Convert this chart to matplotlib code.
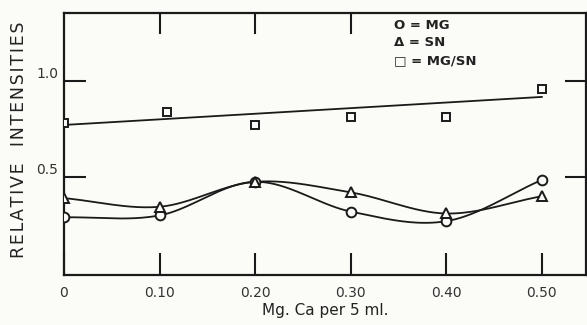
#! /usr/bin/env python3
"""
Relative intensities of MG, SN and MG/SN against Mg. Ca per 5 ml.
"""

import matplotlib
matplotlib.use("Agg")
import matplotlib.pyplot as plt
import numpy as np

mg_ca = [0.0, 0.10, 0.20, 0.30, 0.40, 0.50]
mg = [0.29, 0.30, 0.475, 0.32, 0.27, 0.485]
sn = [0.39, 0.345, 0.475, 0.42, 0.31, 0.40]
ratio_x = [0.0, 0.108, 0.20, 0.30, 0.40, 0.50]
ratio = [0.78, 0.84, 0.77, 0.81, 0.81, 0.96]
fit_x = [0.0, 0.50]
fit_y = [0.771, 0.917]
x_ticks = [0.0, 0.10, 0.20, 0.30, 0.40, 0.50]
x_tick_labels = ["0", "0.10", "0.20", "0.30", "0.40", "0.50"]
y_ticks = [0.5, 1.0]
y_tick_labels = ["0.5", "1.0"]
legend_lines = ["O = MG", "\u0394 = SN", "\u25a1 = MG/SN"]


def smooth_curve(x, y, n=40):
    """Cubic Hermite curve with Catmull-Rom tangents, like a French curve."""
    x = np.asarray(x, dtype=float)
    y = np.asarray(y, dtype=float)
    k = len(x)
    d = np.zeros(k)
    d[0] = (y[1] - y[0]) / (x[1] - x[0])
    d[-1] = (y[-1] - y[-2]) / (x[-1] - x[-2])
    for i in range(1, k - 1):
        d[i] = (y[i + 1] - y[i - 1]) / (x[i + 1] - x[i - 1])
    xs_all, ys_all = [], []
    for i in range(k - 1):
        h = x[i + 1] - x[i]
        t = np.linspace(0, 1, n)
        h00 = 2 * t ** 3 - 3 * t ** 2 + 1
        h10 = t ** 3 - 2 * t ** 2 + t
        h01 = -2 * t ** 3 + 3 * t ** 2
        h11 = t ** 3 - t ** 2
        xs_all.append(x[i] + t * h)
        ys_all.append(h00 * y[i] + h10 * h * d[i]
                      + h01 * y[i + 1] + h11 * h * d[i + 1])
    return np.concatenate(xs_all), np.concatenate(ys_all)


def main():
    paper = "#fbfbf7"
    ink = "#1a1a1a"
    fig = plt.figure(figsize=(5.87, 3.25), dpi=100, facecolor=paper)
    ax = fig.add_axes([0.109, 0.154, 0.889, 0.806], facecolor=paper)

    for xs, ys in (smooth_curve(mg_ca, mg), smooth_curve(mg_ca, sn)):
        ax.plot(xs, ys, color=ink, linewidth=1.3, zorder=2)
    ax.plot(fit_x, fit_y, color=ink, linewidth=1.3, zorder=2)

    ax.plot(mg_ca, mg, linestyle="none", marker="o", markersize=7,
            markerfacecolor=paper, markeredgecolor=ink,
            markeredgewidth=1.4, zorder=3)
    ax.plot(mg_ca, sn, linestyle="none", marker="^", markersize=7,
            markerfacecolor=paper, markeredgecolor=ink,
            markeredgewidth=1.4, zorder=4)
    ax.plot(ratio_x, ratio, linestyle="none", marker="s", markersize=6,
            markerfacecolor=paper, markeredgecolor=ink,
            markeredgewidth=1.4, zorder=3)

    ax.set_xlim(0, 0.546)
    ax.set_ylim(-0.01, 1.354)
    for spine in ax.spines.values():
        spine.set_linewidth(1.6)
        spine.set_color(ink)

    ax.set_xticks(x_ticks)
    ax.set_xticklabels(x_tick_labels, fontsize=10, color="#333333")
    ax.set_yticks(y_ticks)
    ax.set_yticklabels(y_tick_labels, fontsize=10, color="#333333")
    ax.tick_params(axis="both", direction="in", length=16, width=1.5,
                   color=ink, pad=8)
    ax.tick_params(axis="y", pad=4)
    for label in ax.get_yticklabels():
        label.set_va("bottom")

    top = ax.secondary_xaxis("top")
    top.set_xticks([0.10, 0.20, 0.30])
    top.set_xticklabels([])
    top.tick_params(direction="in", length=15, width=1.5, color=ink)
    top.spines["top"].set_visible(False)
    right = ax.secondary_yaxis("right")
    right.set_yticks(y_ticks)
    right.set_yticklabels([])
    right.tick_params(direction="in", length=15, width=1.5, color=ink)
    right.spines["right"].set_visible(False)

    ax.set_xlabel("Mg. Ca per 5 ml.", fontsize=11, color="#222222",
                  labelpad=2)
    ylabel = "\u200a".join("RELATIVE  INTENSITIES")
    fig.text(0.033, 0.57, ylabel,
             rotation=90, fontsize=12.5, color="#222222",
             ha="center", va="center")

    for i, line in enumerate(legend_lines):
        ax.text(0.345, 1.29 - i * 0.092, line, fontsize=9.5,
                fontweight="bold", color="#222222", va="center")

    fig.savefig("out.png", dpi=100, facecolor=paper)


if __name__ == "__main__":
    main()
